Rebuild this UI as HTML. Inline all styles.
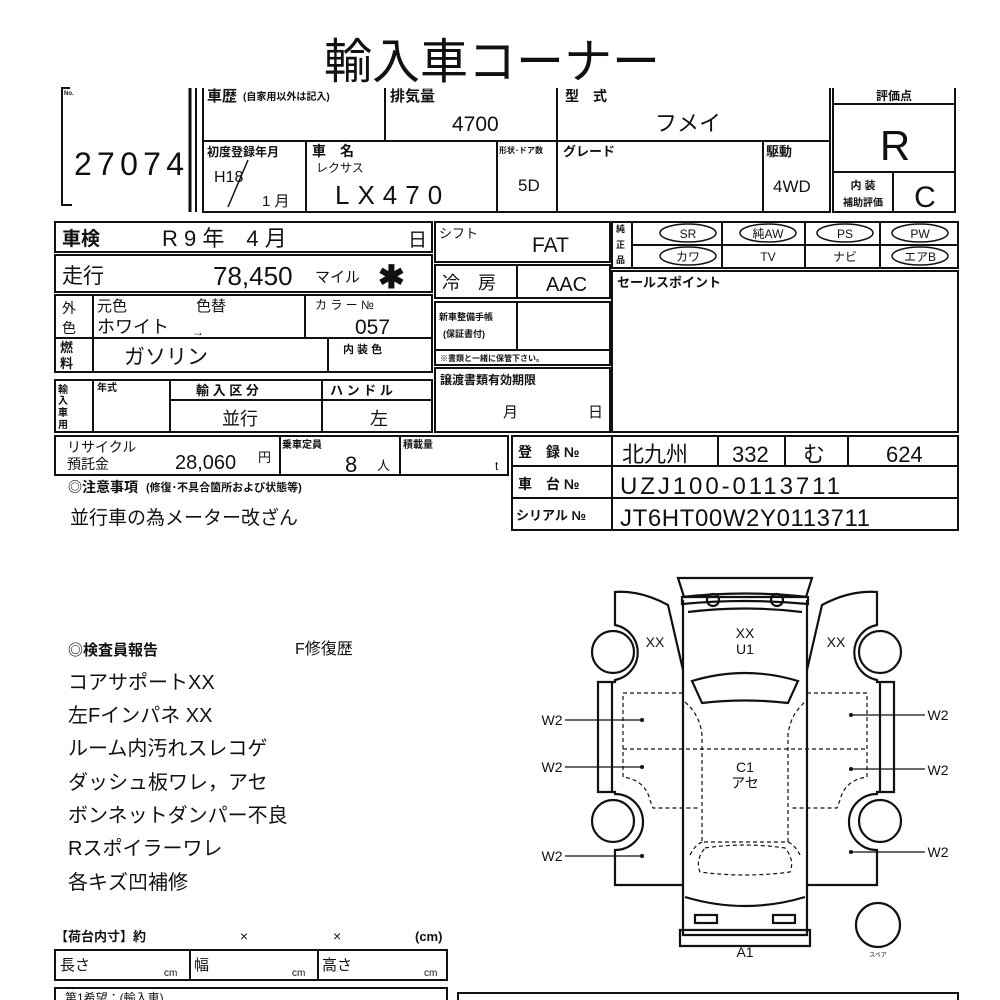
<!DOCTYPE html>
<html><head><meta charset="utf-8"><style>
html,body{margin:0;padding:0;background:#fff}
svg{display:block}
text{font-family:"Liberation Sans","Noto Sans CJK JP",sans-serif;fill:#111}
.b{font-weight:bold}
</style></head><body>
<svg width="1000" height="1000" viewBox="0 0 1000 1000" xmlns="http://www.w3.org/2000/svg">
<g stroke="#111" fill="none" stroke-width="2">
<polyline points="70,88 62,88 62,205 72,205"/>
<line x1="190" y1="88" x2="190" y2="212" stroke-width="3"/>
<line x1="196" y1="88" x2="196" y2="212"/>
<polyline points="203,88 203,212 830,212 830,88"/>
<line x1="203" y1="141" x2="830" y2="141"/>
<line x1="385" y1="88" x2="385" y2="141"/>
<line x1="557" y1="88" x2="557" y2="212"/>
<line x1="306" y1="141" x2="306" y2="212"/>
<line x1="497" y1="141" x2="497" y2="212"/>
<line x1="763" y1="141" x2="763" y2="212"/>
<polyline points="833,88 833,212 955,212 955,88"/>
<line x1="833" y1="104" x2="955" y2="104"/>
<line x1="833" y1="172" x2="955" y2="172"/>
<line x1="893" y1="172" x2="893" y2="212"/>
<line x1="248" y1="160" x2="228" y2="207" stroke-width="1.5"/>
<rect x="55" y="222" width="377" height="30"/>
<rect x="55" y="255" width="377" height="37"/>
<rect x="55" y="295" width="377" height="77"/>
<line x1="55" y1="338" x2="432" y2="338"/>
<line x1="93" y1="295" x2="93" y2="372"/>
<line x1="305" y1="295" x2="305" y2="338"/>
<line x1="328" y1="338" x2="328" y2="372"/>
<rect x="55" y="380" width="377" height="52"/>
<line x1="93" y1="380" x2="93" y2="432"/>
<line x1="170" y1="380" x2="170" y2="432"/>
<line x1="322" y1="380" x2="322" y2="432"/>
<line x1="170" y1="400" x2="432" y2="400"/>
<rect x="435" y="222" width="175" height="40"/>
<rect x="435" y="265" width="175" height="33"/>
<line x1="517" y1="265" x2="517" y2="298"/>
<rect x="435" y="302" width="175" height="63"/>
<line x1="435" y1="350" x2="610" y2="350"/>
<line x1="517" y1="302" x2="517" y2="350"/>
<rect x="435" y="368" width="175" height="64"/>
<rect x="612" y="222" width="346" height="46"/>
<line x1="632" y1="222" x2="632" y2="268"/>
<line x1="722" y1="222" x2="722" y2="268"/>
<line x1="805" y1="222" x2="805" y2="268"/>
<line x1="880" y1="222" x2="880" y2="268"/>
<line x1="632" y1="245" x2="958" y2="245"/>
<rect x="612" y="271" width="346" height="161"/>
<g stroke-width="1.5">
<ellipse cx="688" cy="233" rx="28" ry="9"/><ellipse cx="768" cy="233" rx="28" ry="9"/>
<ellipse cx="845" cy="233" rx="28" ry="9"/><ellipse cx="920" cy="233" rx="28" ry="9"/>
<ellipse cx="688" cy="256" rx="28" ry="9"/><ellipse cx="920" cy="256" rx="28" ry="9"/>
</g>
<rect x="55" y="436" width="453" height="39"/>
<line x1="280" y1="436" x2="280" y2="475"/>
<line x1="400" y1="436" x2="400" y2="475"/>
<rect x="512" y="436" width="446" height="94"/>
<line x1="512" y1="466" x2="958" y2="466"/>
<line x1="512" y1="498" x2="958" y2="498"/>
<line x1="612" y1="436" x2="612" y2="530"/>
<line x1="718" y1="436" x2="718" y2="466"/>
<line x1="785" y1="436" x2="785" y2="466"/>
<line x1="848" y1="436" x2="848" y2="466"/>
<g stroke-width="2.2">
<path d="M683 600 L683 935 L807 935 L807 600"/>
<path d="M678 578 L812 578 L806 597 L684 597 Z"/>
<path d="M682 597 Q745 590 808 597 L808 604 Q745 598 682 604 Z"/>
<circle cx="713" cy="600" r="6"/><circle cx="777" cy="600" r="6"/>
<path d="M688 612 Q745 605 802 612"/>
<path d="M692 681 Q745 665 798 681 L788 703 Q745 698 702 703 Z"/>
<path d="M685 897 Q745 915 805 897"/>
<path d="M680 930 L810 930 L810 946 L680 946 Z"/>
<rect x="695" y="915" width="22" height="8"/><rect x="773" y="915" width="22" height="8"/>
<path d="M683 670 L668 605 Q640 590 615 592 L615 625 A28 28 0 0 1 615 680 L615 682 L598 682 L598 792 L615 792 L615 794 A28 28 0 0 1 615 850 L615 885 L683 885"/>
<circle cx="613" cy="652" r="21"/><circle cx="613" cy="821" r="21"/>
<line x1="612" y1="682" x2="612" y2="792"/>
<path d="M807 670 L822 605 Q850 590 877 592 L877 625 A28 28 0 0 0 877 680 L877 682 L894 682 L894 792 L877 792 L877 794 A28 28 0 0 0 877 850 L877 885 L807 885"/>
<circle cx="880" cy="652" r="21"/><circle cx="880" cy="821" r="21"/>
<line x1="880" y1="682" x2="880" y2="792"/>
<circle cx="878" cy="925" r="22"/>
</g>
<g stroke-width="1.2" stroke-dasharray="4,3">
<path d="M683 693 L623 693 L623 777 Q645 780 650 800 L653 808 L700 808"/>
<line x1="623" y1="749" x2="867" y2="749"/>
<path d="M807 693 L867 693 L867 777 Q845 780 840 800 L837 808 L790 808"/>
<path d="M685 702 Q700 715 702 735 L702 842 L788 842 L788 735 Q790 715 805 702"/>
<path d="M690 855 Q695 845 702 842 M800 855 Q795 845 788 842"/>
<path d="M705 848 Q745 842 785 848 Q795 860 790 872 Q745 878 700 872 Q695 860 705 848 Z"/>
</g>
<g stroke-width="1.2">
<line x1="565" y1="720" x2="642" y2="720"/><line x1="565" y1="767" x2="642" y2="767"/><line x1="565" y1="856" x2="642" y2="856"/>
<line x1="851" y1="715" x2="925" y2="715"/><line x1="851" y1="769" x2="925" y2="769"/><line x1="851" y1="852" x2="925" y2="852"/>
</g>
<rect x="55" y="950" width="392" height="30"/>
<line x1="190" y1="950" x2="190" y2="980"/><line x1="318" y1="950" x2="318" y2="980"/>
<rect x="55" y="988" width="392" height="20"/>
<rect x="458" y="993" width="500" height="20"/>
</g>
<g fill="#111">
<circle cx="642" cy="720" r="2"/><circle cx="642" cy="767" r="2"/><circle cx="642" cy="856" r="2"/>
<circle cx="851" cy="715" r="2"/><circle cx="851" cy="769" r="2"/><circle cx="851" cy="852" r="2"/>
</g>

<text x="492" y="78" font-size="48" text-anchor="middle">輸入車コーナー</text>
<text x="64" y="95" font-size="6" class="b">No.</text>
<text x="74" y="175" font-size="32" textLength="110">27074</text>
<text x="207" y="101" font-size="15" class="b">車歴</text>
<text x="243" y="100" font-size="10" class="b">(自家用以外は記入)</text>
<text x="390" y="101" font-size="15" class="b">排気量</text>
<text x="452" y="131" font-size="21">4700</text>
<text x="565" y="101" font-size="14" class="b">型　式</text>
<text x="655" y="131" font-size="22">フメイ</text>
<text x="207" y="156" font-size="12" class="b">初度登録年月</text>
<text x="214" y="182" font-size="16">H18</text>
<text x="262" y="206" font-size="15">1 月</text>
<text x="312" y="156" font-size="14" class="b">車　名</text>
<text x="316" y="172" font-size="12">レクサス</text>
<text x="335" y="204" font-size="26" letter-spacing="8">LX470</text>
<text x="499" y="153" font-size="8" class="b">形状･ドア数</text>
<text x="518" y="191" font-size="17">5D</text>
<text x="563" y="156" font-size="13" class="b">グレード</text>
<text x="766" y="156" font-size="13" class="b">駆動</text>
<text x="773" y="192" font-size="17">4WD</text>
<text x="894" y="100" font-size="12" class="b" text-anchor="middle">評価点</text>
<text x="895" y="160" font-size="42" text-anchor="middle">R</text>
<text x="863" y="189" font-size="11" class="b" text-anchor="middle">内 装</text>
<text x="863" y="206" font-size="10" class="b" text-anchor="middle">補助評価</text>
<text x="925" y="207" font-size="30" text-anchor="middle">C</text>

<text x="62" y="245" font-size="19" class="b">車検</text>
<text x="162" y="246" font-size="22">R 9 年　4 月</text>
<text x="408" y="246" font-size="19">日</text>
<text x="62" y="283" font-size="21">走行</text>
<text x="213" y="285" font-size="26">78,450</text>
<text x="315" y="282" font-size="15">マイル</text>
<text x="378" y="288" font-size="32" class="b">✱</text>
<text x="62" y="313" font-size="14">外</text><text x="62" y="333" font-size="14">色</text>
<text x="97" y="311" font-size="15">元色</text><text x="196" y="311" font-size="15">色替</text>
<text x="97" y="333" font-size="18">ホワイト</text><text x="192" y="336" font-size="12">→</text>
<text x="315" y="309" font-size="12">カ ラ ー №</text>
<text x="355" y="334" font-size="21">057</text>
<text x="60" y="352" font-size="13" class="b">燃</text><text x="60" y="368" font-size="13" class="b">料</text>
<text x="124" y="364" font-size="21">ガソリン</text>
<text x="343" y="353" font-size="11" class="b">内 装 色</text>
<text x="58" y="393" font-size="10" class="b">輸</text><text x="58" y="404" font-size="10" class="b">入</text><text x="58" y="416" font-size="10" class="b">車</text><text x="58" y="428" font-size="10" class="b">用</text>
<text x="97" y="391" font-size="10" class="b">年式</text>
<text x="196" y="395" font-size="13" class="b">輸 入 区 分</text>
<text x="330" y="395" font-size="13" class="b">ハ ン ド ル</text>
<text x="222" y="425" font-size="18">並行</text>
<text x="370" y="425" font-size="18">左</text>

<text x="439" y="238" font-size="13">シフト</text>
<text x="532" y="252" font-size="21">FAT</text>
<text x="442" y="289" font-size="18">冷　房</text>
<text x="546" y="291" font-size="20">AAC</text>
<text x="439" y="320" font-size="9" class="b">新車整備手帳</text>
<text x="443" y="337" font-size="9" class="b">(保証書付)</text>
<text x="440" y="361" font-size="8" class="b">※書類と一緒に保管下さい。</text>
<text x="440" y="384" font-size="12" class="b">譲渡書類有効期限</text>
<text x="503" y="417" font-size="15">月</text><text x="588" y="417" font-size="15">日</text>

<text x="616" y="232" font-size="9" class="b">純</text><text x="616" y="248" font-size="9" class="b">正</text><text x="616" y="263" font-size="9" class="b">品</text>
<text x="688" y="238" font-size="12" text-anchor="middle">SR</text>
<text x="768" y="238" font-size="12" text-anchor="middle">純AW</text>
<text x="845" y="238" font-size="12" text-anchor="middle">PS</text>
<text x="920" y="238" font-size="12" text-anchor="middle">PW</text>
<text x="688" y="261" font-size="12" text-anchor="middle">カワ</text>
<text x="768" y="261" font-size="12" text-anchor="middle">TV</text>
<text x="845" y="261" font-size="12" text-anchor="middle">ナビ</text>
<text x="920" y="261" font-size="12" text-anchor="middle">エアB</text>
<text x="617" y="287" font-size="13" class="b">セールスポイント</text>

<text x="67" y="452" font-size="14">リサイクル</text>
<text x="67" y="469" font-size="14">預託金</text>
<text x="175" y="469" font-size="20">28,060</text><text x="258" y="462" font-size="13">円</text>
<text x="282" y="448" font-size="10" class="b">乗車定員</text>
<text x="345" y="472" font-size="22">8</text><text x="377" y="470" font-size="13">人</text>
<text x="403" y="448" font-size="10" class="b">積載量</text>
<text x="495" y="470" font-size="12">t</text>
<text x="68" y="492" font-size="14" class="b">◎注意事項</text>
<text x="146" y="491" font-size="11" class="b">(修復･不具合箇所および状態等)</text>
<text x="70" y="524" font-size="19">並行車の為メーター改ざん</text>
<text x="518" y="457" font-size="14" class="b">登　録 №</text>
<text x="518" y="489" font-size="14" class="b">車　台 №</text>
<text x="516" y="520" font-size="13" class="b">シリアル №</text>
<text x="622" y="462" font-size="22">北九州</text>
<text x="732" y="462" font-size="22">332</text>
<text x="803" y="462" font-size="22">む</text>
<text x="886" y="462" font-size="22">624</text>
<text x="620" y="494" font-size="24" textLength="220">UZJ100-0113711</text>
<text x="620" y="526" font-size="24" textLength="250">JT6HT00W2Y0113711</text>

<text x="68" y="655" font-size="15" class="b">◎検査員報告</text>
<text x="295" y="654" font-size="16">F修復歴</text>
<g font-size="20">
<text x="68" y="689">コアサポートXX</text>
<text x="68" y="722">左Fインパネ XX</text>
<text x="68" y="755">ルーム内汚れスレコゲ</text>
<text x="68" y="789">ダッシュ板ワレ，アセ</text>
<text x="68" y="822">ボンネットダンパー不良</text>
<text x="68" y="855">Rスポイラーワレ</text>
<text x="68" y="889">各キズ凹補修</text>
</g>

<g font-size="14">
<text x="745" y="638" text-anchor="middle">XX</text>
<text x="745" y="654" text-anchor="middle">U1</text>
<text x="655" y="647" text-anchor="middle">XX</text>
<text x="836" y="647" text-anchor="middle">XX</text>
<text x="745" y="772" text-anchor="middle">C1</text>
<text x="745" y="788" text-anchor="middle">アセ</text>
<text x="745" y="957" text-anchor="middle">A1</text>
<text x="552" y="725" text-anchor="middle">W2</text>
<text x="552" y="772" text-anchor="middle">W2</text>
<text x="552" y="861" text-anchor="middle">W2</text>
<text x="938" y="720" text-anchor="middle">W2</text>
<text x="938" y="775" text-anchor="middle">W2</text>
<text x="938" y="857" text-anchor="middle">W2</text>
</g>
<text x="878" y="957" font-size="6" text-anchor="middle">スペア</text>

<text x="55" y="941" font-size="13" class="b">【荷台内寸】約</text>
<text x="240" y="941" font-size="14">×</text>
<text x="333" y="941" font-size="14">×</text>
<text x="415" y="941" font-size="13" class="b">(cm)</text>
<text x="60" y="970" font-size="15">長さ</text><text x="164" y="976" font-size="10">cm</text>
<text x="194" y="970" font-size="15">幅</text><text x="292" y="976" font-size="10">cm</text>
<text x="322" y="970" font-size="15">高さ</text><text x="424" y="976" font-size="10">cm</text>
<text x="65" y="1002" font-size="12">第1希望：(輸入車)</text>
</svg>
</body></html>
